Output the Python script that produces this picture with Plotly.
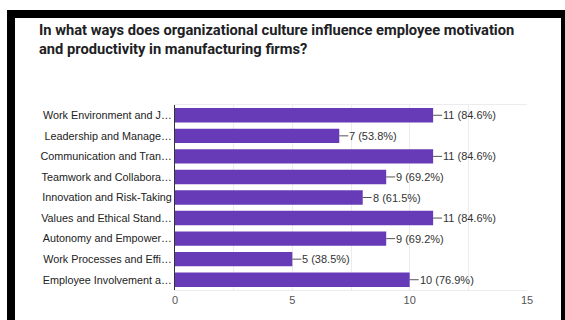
import plotly.graph_objects as go

# Survey responses (13 respondents)
categories = [
    "Work Environment and J…",
    "Leadership and Manage…",
    "Communication and Tran…",
    "Teamwork and Collabora…",
    "Innovation and Risk-Taking",
    "Values and Ethical Stand…",
    "Autonomy and Empower…",
    "Work Processes and Effi…",
    "Employee Involvement a…",
]
counts = [11, 7, 11, 9, 8, 11, 9, 5, 10]
percents = [84.6, 53.8, 84.6, 69.2, 61.5, 84.6, 69.2, 38.5, 76.9]
x_ticks = [0, 5, 10, 15]

title_lines = [
    "In what ways does organizational culture influence employee motivation",
    "and productivity in manufacturing firms?",
]

W, H = 565, 320
ML, MR, MT, MB = 175, 38, 105, 30
PW, PH = W - ML - MR, H - MT - MB


def px_x(px):
    return (px - ML) / PW


def px_y(py):
    return (H - MB - py) / PH


fig = go.Figure(
    go.Bar(
        x=counts,
        y=categories,
        orientation="h",
        marker=dict(color="#673ab7", line=dict(width=0)),
        width=0.7,
        hoverinfo="skip",
    )
)

# value labels joined to the bar ends by a short leader line
for c, p, cat in zip(counts, percents, categories):
    fig.add_annotation(
        x=c, y=cat, xref="x", yref="y",
        text=f"{c} ({p}%)",
        showarrow=True, arrowhead=0, arrowwidth=1, arrowcolor="#555555",
        ax=9, ay=0, xanchor="left", yanchor="middle",
        font=dict(family="Arial", size=11, color="#333333"),
        borderpad=0,
    )

# two-line heading
for i, line in enumerate(title_lines):
    fig.add_annotation(
        x=px_x(37), y=px_y(30 + i * 19.5), xref="paper", yref="paper",
        text=f"<b>{line}</b>", showarrow=False,
        xanchor="left", yanchor="middle",
        font=dict(family="Roboto", size=14.7, color="#202124"),
    )

# black frame around the card
frame = dict(type="rect", xref="paper", yref="paper",
             fillcolor="black", line=dict(width=0), layer="above")
fig.add_shape(**frame, x0=px_x(7), x1=px_x(565), y0=px_y(18), y1=px_y(10))
fig.add_shape(**frame, x0=px_x(7), x1=px_x(15), y0=px_y(320), y1=px_y(10))
fig.add_shape(**frame, x0=px_x(561), x1=px_x(565), y0=px_y(320), y1=px_y(10))

fig.update_layout(
    width=W, height=H,
    margin=dict(l=ML, r=MR, t=MT, b=MB),
    paper_bgcolor="white", plot_bgcolor="white",
    showlegend=False,
    bargap=0.3,
    xaxis=dict(
        range=[0, 15], tickvals=x_ticks,
        showgrid=True, gridcolor="#ececec", gridwidth=1,
        minor=dict(dtick=2.5, showgrid=True, gridcolor="#ececec"),
        zeroline=False,
        showline=True, linecolor="#ececec", mirror=True,
        ticks="", tickfont=dict(family="Arial", size=11, color="#555555"),
        fixedrange=True,
    ),
    yaxis=dict(
        autorange="reversed",
        showgrid=False, zeroline=False,
        showline=True, linecolor="#333333", linewidth=1,
        ticks="", ticklabelstandoff=0,
        tickfont=dict(family="Arial", size=10.8, color="#222222"),
        fixedrange=True,
    ),
)

fig.write_html("out.html")
